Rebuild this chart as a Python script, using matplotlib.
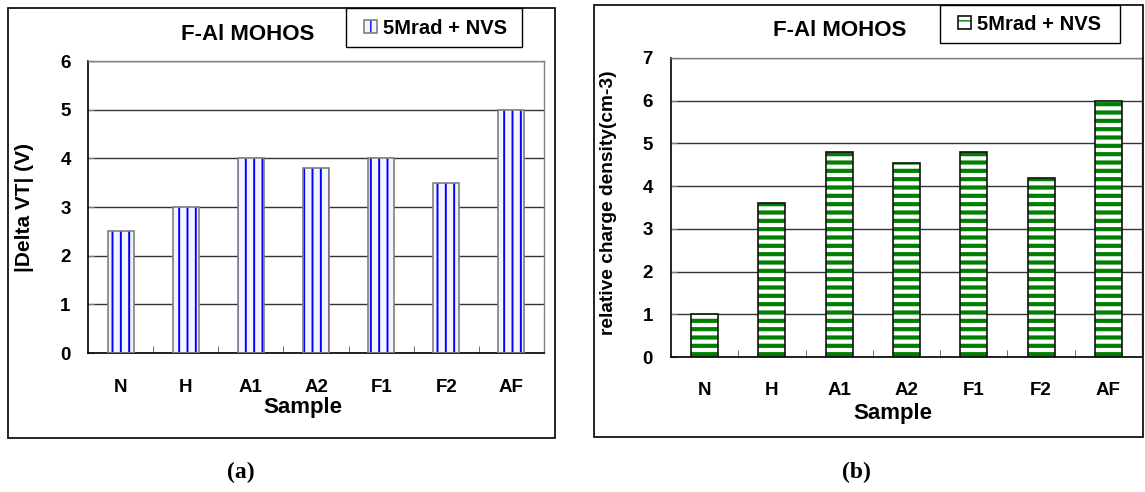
import numpy as np
import matplotlib
matplotlib.use("Agg")
import matplotlib.pyplot as plt
from matplotlib.patches import Rectangle
from matplotlib.legend_handler import HandlerTuple

# Data
samples = ["N", "H", "A1", "A2", "F1", "F2", "AF"]
delta_vt = [2.5, 3.0, 4.0, 3.8, 4.0, 3.5, 5.0]
charge_density = [1.0, 3.6, 4.8, 4.55, 4.8, 4.2, 6.0]
series_label = "5Mrad + NVS"
panel_title = "F-Al MOHOS"

plt.rcParams["font.family"] = ["Liberation Sans", "DejaVu Sans"]
plt.rcParams["font.weight"] = "bold"
plt.rcParams["axes.labelweight"] = "bold"

W, H = 1145, 492
fig = plt.figure(figsize=(W / 100, H / 100), dpi=100)


def px_rect(l, t, r, b):
    return [l / W, 1 - b / H, (r - l) / W, (b - t) / H]


def fx(x):
    return x / W


def fy(y):
    return 1 - y / H


def box(l, t, r, b, lw=1.2, face="none", z=1):
    fig.add_artist(Rectangle((fx(l), fy(b)), (r - l) / W, (b - t) / H,
                             transform=fig.transFigure, fill=face != "none",
                             facecolor=face, edgecolor="black", linewidth=lw,
                             zorder=z))


def panel(rect, values, ymax, hatch, hatch_color, face, edge, hatch_lw,
          ylabel, ylabel_size, ylabel_xy, xlabel_xy, ytick_pad, xtick_pad):
    ax = fig.add_axes(rect)
    x = np.arange(len(samples))
    with plt.rc_context({"hatch.linewidth": hatch_lw}):
        fill = ax.bar(x, values, 0.4, color=face, edgecolor=hatch_color,
                      linewidth=0, hatch=hatch, zorder=2)
    for p in fill:
        if hasattr(p, "set_hatch_linewidth"):
            p.set_hatch_linewidth(hatch_lw)
    outline = ax.bar(x, values, 0.4, fill=False, edgecolor=edge,
                     linewidth=1.2, zorder=3)

    ax.set_xlim(-0.5, len(samples) - 0.5)
    ax.set_ylim(0, ymax)
    ax.set_yticks(np.arange(0, ymax + 1, 1))
    ax.set_xticks(x)
    ax.set_xticklabels(samples)
    ax.set_xticks(np.arange(0.5, len(samples) - 1, 1), minor=True)

    ax.yaxis.grid(True, color="#333333", linewidth=1.0, zorder=0)
    ax.set_axisbelow(True)
    for s in ("left", "bottom"):
        ax.spines[s].set_color("black")
        ax.spines[s].set_linewidth(1.2)
    for s in ("top", "right"):
        ax.spines[s].set_color("#808080")
        ax.spines[s].set_linewidth(1.0)

    ax.tick_params(axis="y", direction="in", length=4, color="#808080",
                   labelsize=13.5, pad=ytick_pad)
    ax.tick_params(axis="x", which="major", length=0, labelsize=13.5,
                   pad=xtick_pad)
    ax.tick_params(axis="x", which="minor", direction="in", length=5,
                   color="#555555")

    ax.set_ylabel(ylabel, fontsize=ylabel_size)
    ax.yaxis.set_label_coords(*ylabel_xy)
    ax.set_xlabel("Sample", fontsize=16)
    ax.xaxis.set_label_coords(*xlabel_xy)
    return ax, (fill[0], outline[0])


# Panel (a)
box(8, 8, 555, 438)
ax_a, handle_a = panel(px_rect(88, 61, 544, 353), delta_vt, 6, "||",
                       "#0000ff", "#f4f4ff", "#808080", 1.4,
                       "|Delta VT| (V)", 15, (-0.118, 0.5), (0.472, -0.15),
                       12.5, 19)
fig.text(fx(248), fy(34), panel_title, fontsize=16, ha="center", va="center")
box(346, 8, 522, 47, lw=1.0, face="white", z=3)
leg_a = fig.legend([handle_a], [series_label],
                   handler_map={tuple: HandlerTuple(ndivide=1)},
                   loc="center left", bbox_to_anchor=(fx(364), fy(28)),
                   frameon=False, fontsize=14.5, borderpad=0, borderaxespad=0,
                   handlelength=0.65, handleheight=0.65, handletextpad=0.3)
leg_a.set_zorder(4)

# Panel (b)
box(594, 5, 1143, 437)
ax_b, handle_b = panel(px_rect(671, 58, 1142, 357), charge_density, 7, "--",
                       "#008000", "white", "#111111", 3.0,
                       "relative charge density(cm-3)", 13.8,
                       (-0.115, 0.515), (0.472, -0.155), 13.0, 18)
fig.text(fx(840), fy(31), panel_title, fontsize=16, ha="center", va="center")
box(940, 5, 1120, 43, lw=1.0, face="white", z=3)
leg_b = fig.legend([handle_b], [series_label],
                   handler_map={tuple: HandlerTuple(ndivide=1)},
                   loc="center left", bbox_to_anchor=(fx(958), fy(24)),
                   frameon=False, fontsize=14.5, borderpad=0, borderaxespad=0,
                   handlelength=0.65, handleheight=0.65, handletextpad=0.3)
leg_b.set_zorder(4)

# Panel captions
for cx, cap in ((241, "(a)"), (856, "(b)")):
    fig.text(fx(cx), fy(472), cap, fontsize=17, ha="center", va="center",
             family="Liberation Serif", weight="bold")

fig.savefig("out.png", dpi=100, facecolor="white")
